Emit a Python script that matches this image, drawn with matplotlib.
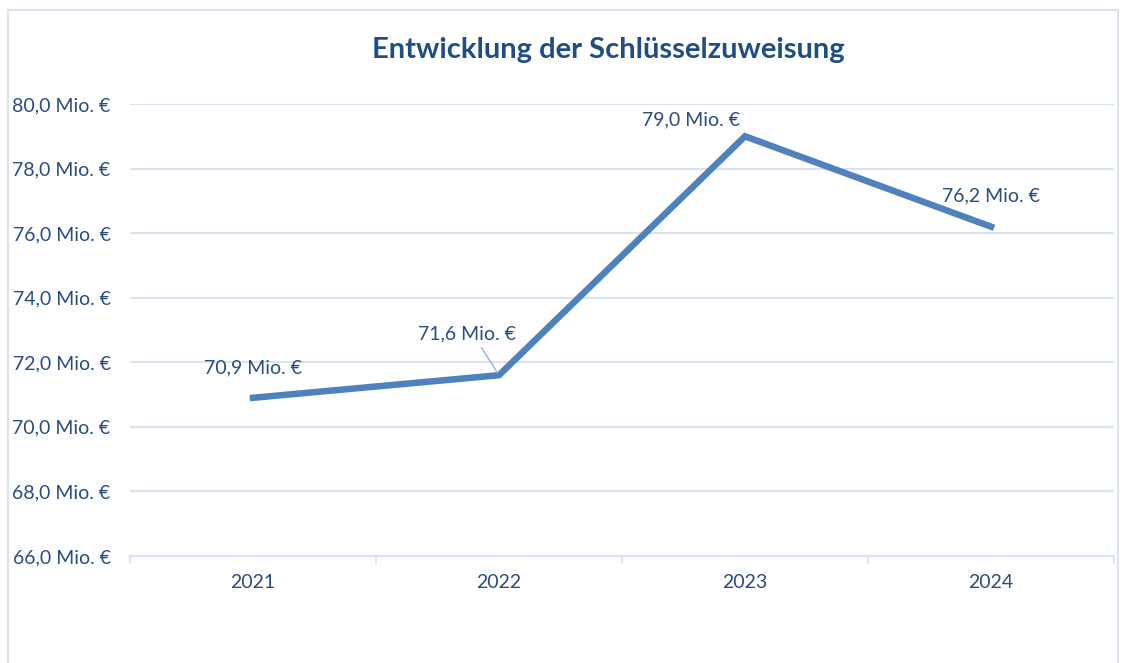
import matplotlib.pyplot as plt
from matplotlib.patches import Rectangle

# Data
years = ['2021', '2022', '2023', '2024']
values = [70.9, 71.6, 79.0, 76.2]
y_ticks = [66, 68, 70, 72, 74, 76, 78, 80]

# label offsets in pixels relative to the point (dx, dy)
label_offsets = [(0, 30), (-32, 41), (-54, 16), (0, 31)]

TEXT = '#2B4C7E'
LINE = '#4F81BD'
GRID = '#D9E3F1'

plt.rcParams['font.family'] = ['Lato', 'DejaVu Sans']

fig = plt.figure(figsize=(11.3, 6.63), dpi=100)
ax = fig.add_axes([130 / 1130, 1 - 556 / 663, (1114 - 130) / 1130, (556 - 104) / 663])

# outer chart border
fig.patches.append(Rectangle((8 / 1130, -0.05), (1118 - 8) / 1130, 1 - 10 / 663 + 0.05,
                             transform=fig.transFigure, fill=False,
                             edgecolor=GRID, linewidth=1.5))

x = list(range(len(years)))
ax.plot(x, values, color=LINE, linewidth=4.7, solid_joinstyle='miter', zorder=3)

for xi, v, (dx, dy) in zip(x, values, label_offsets):
    label = f'{v:.1f}'.replace('.', ',') + ' Mio. €'
    ax.annotate(label, (xi, v), xytext=(dx, dy), textcoords='offset pixels',
                ha='center', va='center', fontsize=14, color=TEXT)

# leader line for 2022 label
ax.annotate('', (1, values[1]), xytext=(-19, 30), textcoords='offset pixels',
            arrowprops=dict(arrowstyle='-', color='#8DB3E2', linewidth=1))

ax.set_xlim(-0.5, 3.5)
ax.set_ylim(66, 80)
ax.set_yticks(y_ticks)
ax.set_yticklabels([f'{t:.1f}'.replace('.', ',') + ' Mio. €' for t in y_ticks])
ax.set_xticks(x)
ax.set_xticklabels(years)
ax.set_xticks([-0.5, 0.5, 1.5, 2.5, 3.5], minor=True)

ax.tick_params(axis='y', length=0, pad=14, labelsize=14, labelcolor=TEXT)
ax.tick_params(axis='x', which='major', length=0, pad=13, labelsize=14, labelcolor=TEXT)
ax.tick_params(axis='x', which='minor', length=6, width=1.2, color=GRID)

ax.grid(axis='y', color=GRID, linewidth=1.5)
ax.set_axisbelow(True)
for side in ['top', 'right', 'left']:
    ax.spines[side].set_visible(False)
ax.spines['bottom'].set_color(GRID)
ax.spines['bottom'].set_linewidth(1.5)

fig.text(608 / 1130, 1 - 50 / 663, 'Entwicklung der Schlüsselzuweisung',
         ha='center', va='center', fontsize=21, fontweight='bold', color='#1F4E86')

fig.savefig('out.png', dpi=100)
